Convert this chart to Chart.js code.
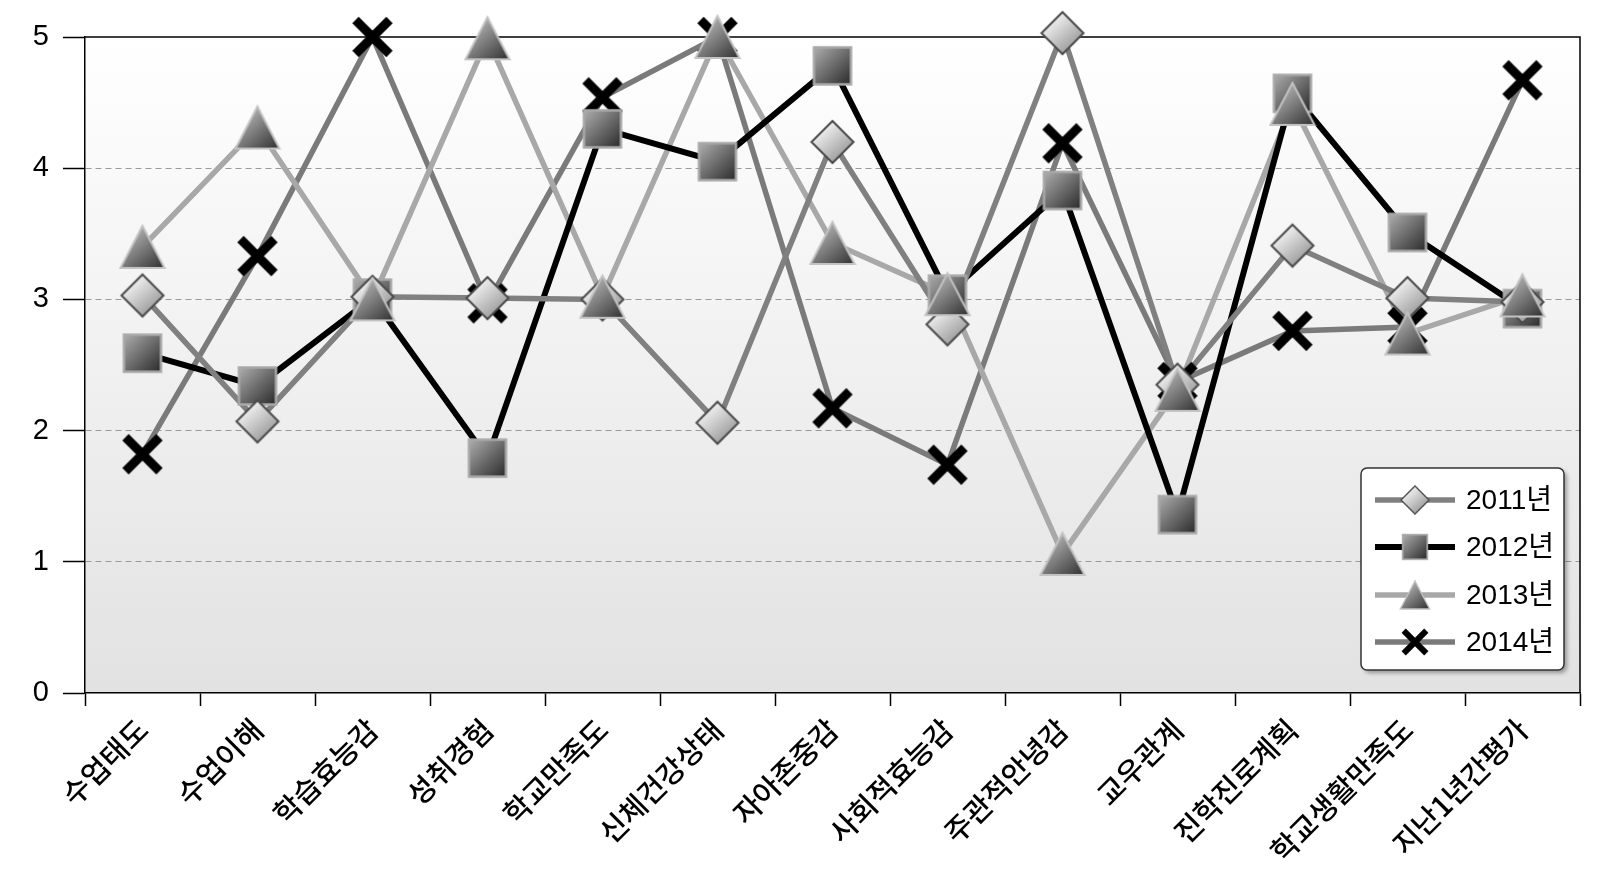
<!DOCTYPE html>
<html lang="ko">
<head>
<meta charset="utf-8">
<title>연도별 평균</title>
<script src="https://cdn.jsdelivr.net/npm/chart.js@4"></script>
<style>
    html, body { margin: 0; padding: 0; background: #ffffff; }
    #wrap { width: 1606px; height: 886px; }
</style>
</head>
<body>
<div id="wrap"><canvas id="line-chart" width="1606" height="886"></canvas></div>
<script>
// Data
var categories = ['수업태도', '수업이해', '학습효능감', '성취경험', '학교만족도', '신체건강상태', '자아존중감',
    '사회적효능감', '주관적안녕감', '교우관계', '진학진로계획', '학교생활만족도', '지난1년간평가'];
var yearLabels = ['2011년', '2012년', '2013년', '2014년'];
var values2011 = [3.03, 2.07, 3.02, 3.01, 3.00, 2.06, 4.20, 2.81, 5.03, 2.35, 3.41, 3.01, 2.98];
var values2012 = [2.59, 2.34, 3.01, 1.79, 4.30, 4.05, 4.78, 3.04, 3.83, 1.36, 4.57, 3.51, 2.93];
var values2013 = [3.40, 4.31, 3.00, 4.99, 3.02, 5.00, 3.43, 3.04, 1.06, 2.31, 4.49, 2.74, 3.03];
var values2014 = [1.82, 3.33, 5.00, 2.97, 4.54, 5.00, 2.17, 1.74, 4.19, 2.37, 2.76, 2.79, 4.67];
var yTicks = [0, 1, 2, 3, 4, 5];

var FONT = 'Liberation Sans, "Noto Sans CJK KR", sans-serif';
var KFONT = '"Noto Sans CJK KR", sans-serif';

// Marker images (gradient filled, like the office chart)
function makeMarker(kind) {
    var c = document.createElement('canvas');
    c.width = 48; c.height = 48;
    var g = c.getContext('2d');
    var grad;
    if (kind === 'diamond') {
        grad = g.createLinearGradient(12, 10, 36, 38);
        grad.addColorStop(0, '#f4f4f4');
        grad.addColorStop(1, '#9c9c9c');
        g.beginPath();
        g.moveTo(24, 3); g.lineTo(45, 24); g.lineTo(24, 45); g.lineTo(3, 24); g.closePath();
        g.fillStyle = grad; g.fill();
        g.lineWidth = 2; g.strokeStyle = '#4a4a4a'; g.stroke();
    } else if (kind === 'square') {
        grad = g.createLinearGradient(6, 6, 42, 42);
        grad.addColorStop(0, '#acacac');
        grad.addColorStop(1, '#2c2c2c');
        g.fillStyle = grad;
        g.fillRect(5.5, 5.5, 37, 37);
        g.lineWidth = 2.5; g.strokeStyle = '#a8a8a8';
        g.strokeRect(5.5, 5.5, 37, 37);
    } else if (kind === 'triangle') {
        grad = g.createLinearGradient(10, 10, 40, 46);
        grad.addColorStop(0, '#b4b4b4');
        grad.addColorStop(1, '#383838');
        g.beginPath();
        g.moveTo(24, 3); g.lineTo(46, 45); g.lineTo(2, 45); g.closePath();
        g.fillStyle = grad; g.fill();
        g.lineWidth = 2; g.strokeStyle = '#c2c2c2'; g.stroke();
    } else {
        g.lineWidth = 9; g.lineCap = 'butt'; g.strokeStyle = '#000000';
        g.beginPath();
        g.moveTo(7, 7); g.lineTo(41, 41);
        g.moveTo(41, 7); g.lineTo(7, 41);
        g.stroke();
    }
    return c;
}

var markers = [makeMarker('diamond'), makeMarker('square'), makeMarker('triangle'), makeMarker('cross')];
var lineColors = ['#808080', '#000000', '#a8a8a8', '#7a7a7a'];
var lineWidths = [5.5, 6, 5.5, 5.5];
var seriesValues = [values2011, values2012, values2013, values2014];
// marker stacking: triangle on top, then diamond, square, cross at the bottom
var markerOrder = [1, 2, 0, 3];

// Background + frame
var plotBackground = {
    id: 'plotBackground',
    beforeDraw: function (chart) {
        var a = chart.chartArea, ctx = chart.ctx;
        var grad = ctx.createLinearGradient(0, a.top, 0, a.bottom);
        grad.addColorStop(0, '#ffffff');
        grad.addColorStop(1, '#e2e2e2');
        ctx.save();
        ctx.fillStyle = grad;
        ctx.fillRect(a.left, a.top, a.right - a.left, a.bottom - a.top);
        ctx.restore();
    },
    beforeDatasetsDraw: function (chart) {
        var a = chart.chartArea, ctx = chart.ctx;
        ctx.save();
        ctx.strokeStyle = '#000000';
        ctx.lineWidth = 1.5;
        ctx.beginPath();
        ctx.moveTo(a.left, a.top); ctx.lineTo(a.right, a.top);
        ctx.lineTo(a.right, a.bottom);
        ctx.stroke();
        ctx.restore();
    }
};

// Legend box inside the plot
var boxLegend = {
    id: 'boxLegend',
    afterDraw: function (chart) {
        var ctx = chart.ctx;
        var x = 1361, y = 468, w = 203, h = 202;
        ctx.save();
        ctx.shadowColor = 'rgba(0,0,0,0.35)';
        ctx.shadowBlur = 4;
        ctx.shadowOffsetX = 3;
        ctx.shadowOffsetY = 3;
        ctx.beginPath();
        ctx.roundRect(x, y, w, h, 6);
        ctx.fillStyle = '#ffffff';
        ctx.fill();
        ctx.shadowColor = 'transparent';
        ctx.lineWidth = 1.5;
        ctx.strokeStyle = '#333333';
        ctx.stroke();

        var rows = [500, 547, 595, 642];
        for (var i = 0; i < yearLabels.length; i++) {
            ctx.beginPath();
            ctx.moveTo(1375, rows[i]);
            ctx.lineTo(1455, rows[i]);
            ctx.lineWidth = lineWidths[i];
            ctx.strokeStyle = lineColors[i];
            ctx.stroke();
            ctx.drawImage(markers[i], 1415 - 16, rows[i] - 16, 32, 32);
            ctx.fillStyle = '#000000';
            ctx.font = '28px ' + FONT;
            ctx.textBaseline = 'middle';
            ctx.textAlign = 'left';
            ctx.fillText(yearLabels[i], 1466, rows[i] + 1);
        }
        ctx.restore();
    }
};

// Line Chart
var datasets = [];
for (var i = 0; i < seriesValues.length; i++) {
    datasets.push({
        label: yearLabels[i],
        data: seriesValues[i],
        borderColor: lineColors[i],
        borderWidth: lineWidths[i],
        pointRadius: 0,
        fill: false,
        tension: 0,
        clip: false,
        order: 10 + i
    });
}
for (var j = 0; j < seriesValues.length; j++) {
    datasets.push({
        label: yearLabels[j] + ' marker',
        data: seriesValues[j],
        showLine: false,
        pointStyle: markers[j],
        pointRadius: 20,
        pointHoverRadius: 20,
        clip: false,
        order: markerOrder[j]
    });
}

var ctx1 = document.getElementById('line-chart').getContext('2d');
var myChart1 = new Chart(ctx1, {
    type: 'line',
    data: {
        labels: categories,
        datasets: datasets
    },
    options: {
        responsive: false,
        animation: false,
        layout: { padding: { top: 37, right: 26, bottom: 0, left: 0 } },
        plugins: {
            legend: { display: false },
            tooltip: { enabled: false }
        },
        scales: {
            x: {
                offset: true,
                grid: {
                    offset: true,
                    drawOnChartArea: false,
                    tickLength: 13,
                    tickColor: '#000000',
                    tickWidth: 1.5
                },
                border: { color: '#000000', width: 1.5 },
                ticks: {
                    autoSkip: false,
                    maxRotation: 45,
                    minRotation: 45,
                    padding: 6,
                    color: '#000000',
                    font: { family: KFONT, size: 29, weight: '500' }
                },
                afterFit: function (scale) { scale.height = 193; }
            },
            y: {
                min: 0,
                max: 5,
                afterBuildTicks: function (scale) {
                    scale.ticks = yTicks.map(function (v) { return { value: v }; });
                },
                grid: {
                    color: function (c) {
                        return (c.tick && (c.tick.value === 0 || c.tick.value === 5)) ? 'rgba(0,0,0,0)' : '#9a9a9a';
                    },
                    lineWidth: 1,
                    tickLength: 22,
                    tickColor: '#000000',
                    tickWidth: 1.5
                },
                border: { color: '#000000', width: 1.5, dash: [6, 4] },
                ticks: {
                    padding: 14,
                    color: '#000000',
                    font: { family: FONT, size: 29 }
                },
                afterFit: function (scale) { scale.width = 85; }
            }
        }
    },
    plugins: [plotBackground, boxLegend]
});
</script>
</body>
</html>
